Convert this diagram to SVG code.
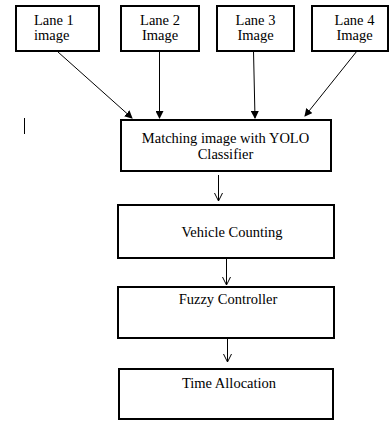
<svg xmlns="http://www.w3.org/2000/svg" width="390" height="421" viewBox="0 0 390 421">
<style>
.box{fill:#fff;stroke:#000;stroke-width:2}
.t{font-family:"Liberation Serif","Times New Roman",serif;font-size:14.5px;fill:#000;text-anchor:middle}
.c{stroke:#000;stroke-width:1;fill:none}
</style>
<defs>
<marker id="af" markerWidth="8" markerHeight="8" refX="7" refY="4" orient="auto" markerUnits="userSpaceOnUse"><path d="M0,0 L8,4 L0,8 Z" fill="#000"/></marker>
<marker id="ao" markerWidth="10" markerHeight="10" refX="9" refY="5" orient="auto" markerUnits="userSpaceOnUse"><path d="M1,1 L9,5 L1,9" fill="none" stroke="#000" stroke-width="1"/></marker>
</defs>
<rect width="390" height="421" fill="#fff"/>
<g id="lane1"><rect class="box" x="16" y="6" width="83" height="45"/><text class="t" x="34" y="25" style="text-anchor:start">Lane 1</text><text class="t" x="34" y="40" style="text-anchor:start">image</text></g>
<g id="lane2"><rect class="box" x="121" y="6" width="78" height="45"/><text class="t" x="160" y="25">Lane 2</text><text class="t" x="160" y="40">Image</text></g>
<g id="lane3"><rect class="box" x="217" y="6" width="77" height="45"/><text class="t" x="255.5" y="25">Lane 3</text><text class="t" x="255.5" y="40">Image</text></g>
<g id="lane4"><rect class="box" x="312" y="6" width="76" height="45"/><text class="t" x="354.5" y="25">Lane 4</text><text class="t" x="354.5" y="40">Image</text></g>
<g id="matching"><rect class="box" x="121" y="120" width="210" height="51"/><text class="t" x="225.5" y="143">Matching image with YOLO</text><text class="t" x="225.5" y="159">Classifier</text></g>
<g id="counting"><rect class="box" x="118" y="205" width="216" height="53"/><text class="t" x="232" y="237">Vehicle Counting</text></g>
<g id="fuzzy"><rect class="box" x="118" y="287" width="216" height="51"/><text class="t" x="228" y="304">Fuzzy Controller</text></g>
<g id="time"><rect class="box" x="119" y="369" width="214" height="50"/><text class="t" x="229" y="388">Time Allocation</text></g>
<g id="cursor"><line x1="24.5" y1="118" x2="24.5" y2="134" stroke="#000" stroke-width="1"/></g>
<g id="connectors">
<line class="c" x1="58" y1="52" x2="132" y2="118" marker-end="url(#af)"/>
<line class="c" x1="159.5" y1="51" x2="159.5" y2="118" marker-end="url(#af)"/>
<line class="c" x1="253.5" y1="51" x2="255" y2="118" marker-end="url(#af)"/>
<line class="c" x1="357" y1="51" x2="305" y2="116" marker-end="url(#af)"/>
<line class="c" x1="218.5" y1="175" x2="218.5" y2="201" marker-end="url(#ao)"/>
<line class="c" x1="226.5" y1="258" x2="226.5" y2="285" marker-end="url(#ao)"/>
<line class="c" x1="227.5" y1="338" x2="227.5" y2="362" marker-end="url(#ao)"/>
</g>
</svg>
